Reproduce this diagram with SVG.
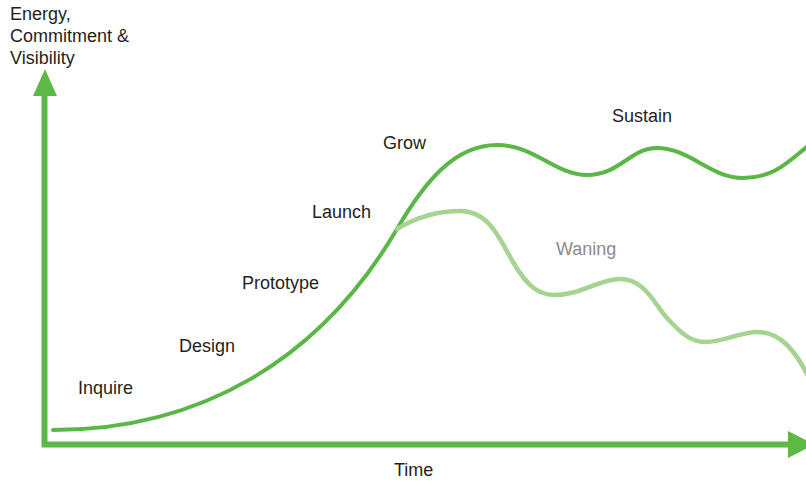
<svg xmlns="http://www.w3.org/2000/svg" width="806" height="481" viewBox="0 0 806 481">
  <style>
    .lbl { font-family: "Liberation Sans", Arial, sans-serif; font-size: 18px; fill: #231f20; }
    .fade { fill: #8c8c8c; }
    .axis { stroke: #5cb946; stroke-width: 6; fill: none; }
    .main { stroke: #5ab646; stroke-width: 4; fill: none; stroke-linecap: round; }
    .wane { stroke: #a5d390; stroke-width: 4.5; fill: none; stroke-linecap: round; }
    .head { fill: #5cb946; }
  </style>
  <rect width="806" height="481" fill="#ffffff"/>

  <!-- axes -->
  <g id="axes">
    <polyline class="axis" points="44.5,95 44.5,444.5 790,444.5"/>
    <polygon class="head" points="45,69 33,96 57,96"/>
    <polygon class="head" points="788,431 788,458 814,444.5"/>
  </g>

  <!-- curves -->
  <g id="connectors">
    <path id="growth" class="main" d="M53,430 C200,430 320,360 397,229 C425,181 455,145 497,145 C535,145 555,175 587,175 C620,175 630,148 657,148 C690,148 710,178 743,178 C775,178 790,160 808,146"/>
    <path id="waning" class="wane" d="M397,229 C420,215 440,211 460,211 C490,211 500,240 513,262 C528,288 540,295 555,295 C580,295 600,279 620,279 C645,279 655,305 667,318 C680,332 690,342 705,342 C725,342 740,332 757,332 C780,332 795,350 808,376"/>
  </g>

  <!-- axis titles -->
  <g id="y-title">
    <text class="lbl" x="10" y="20">Energy,</text>
    <text class="lbl" x="10" y="42">Commitment &amp;</text>
    <text class="lbl" x="10" y="64">Visibility</text>
  </g>
  <g id="x-title"><text class="lbl" x="394" y="476">Time</text></g>

  <!-- stage labels -->
  <g id="inquire"><text class="lbl" x="78" y="394">Inquire</text></g>
  <g id="design"><text class="lbl" x="179" y="352">Design</text></g>
  <g id="prototype"><text class="lbl" x="242" y="289">Prototype</text></g>
  <g id="launch"><text class="lbl" x="312" y="218">Launch</text></g>
  <g id="grow"><text class="lbl" x="383" y="149">Grow</text></g>
  <g id="sustain"><text class="lbl" x="612" y="122">Sustain</text></g>
  <g id="waning-label"><text class="lbl fade" x="556" y="255">Waning</text></g>
</svg>
